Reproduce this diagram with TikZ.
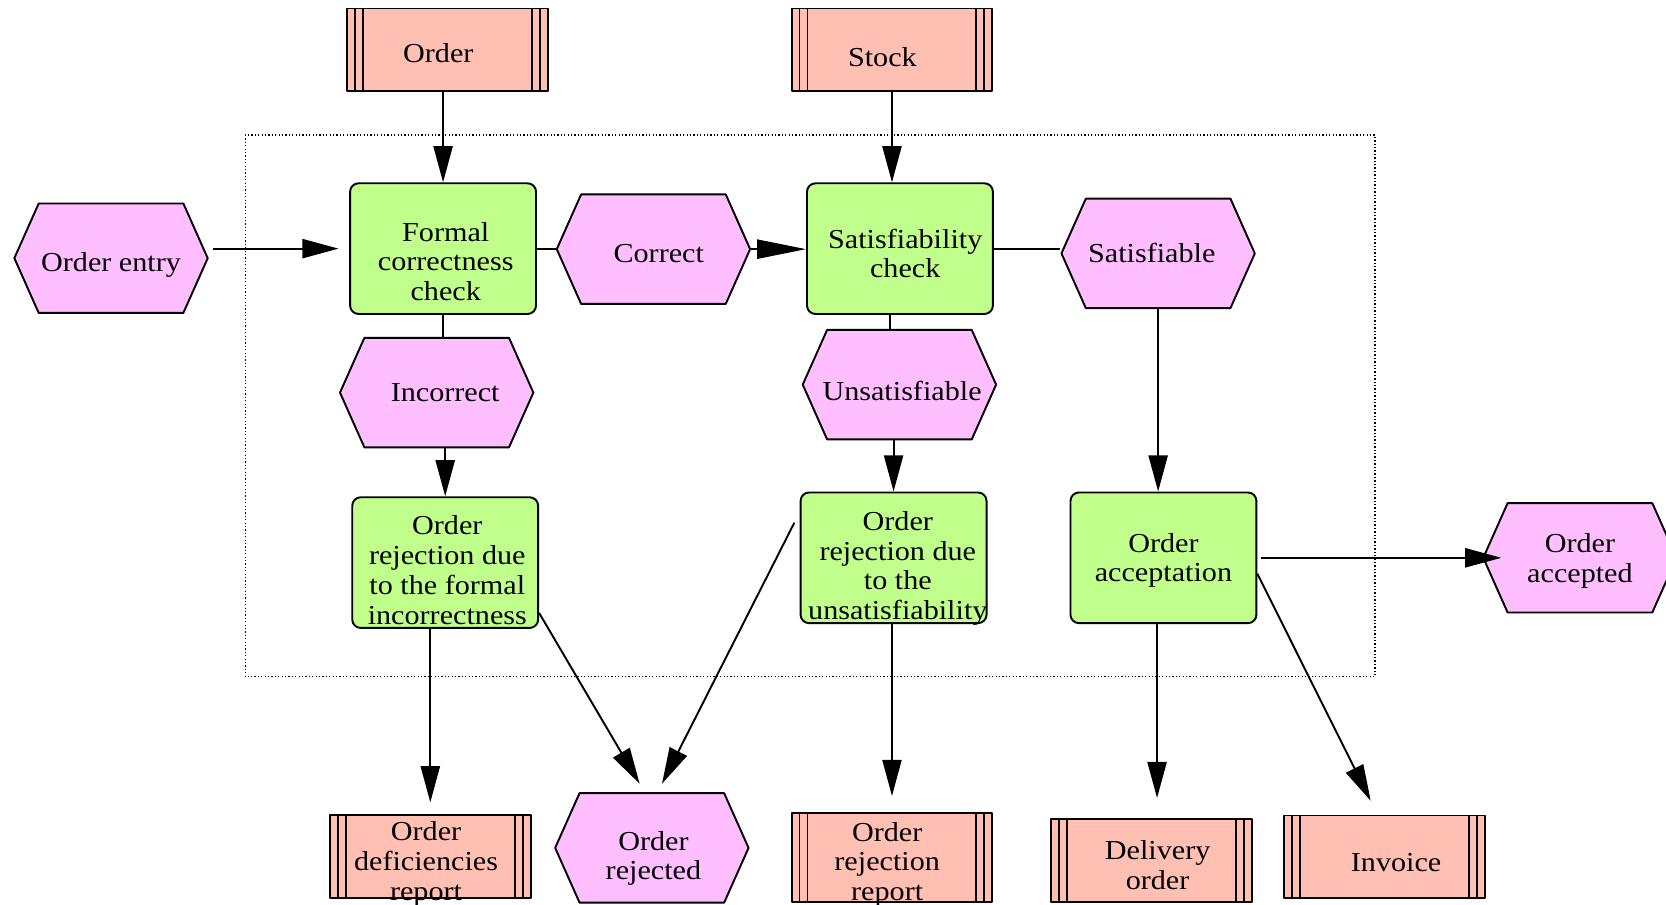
\documentclass[tikz,border=0pt]{standalone}
\usepackage{fontspec}
\setmainfont{Liberation Serif}[FakeStretch=1.1]
\usepackage{tikz}
\usetikzlibrary{arrows.meta,shapes.symbols}
\definecolor{fnfill}{RGB}{192,255,140}
\definecolor{evfill}{RGB}{255,190,255}
\definecolor{docfill}{RGB}{255,191,179}

\begin{document}
\begin{tikzpicture}[x=0.5pt,y=-0.5pt,>={Triangle[length=17pt,width=9pt]},line join=round,
  every node/.style={font=\fontsize{12.9}{14}\selectfont,align=center,line width=0.9pt},
  txt/.style={inner sep=0pt},
  fn/.style={draw,fill=fnfill,rounded corners=4pt,minimum width=87.5pt,minimum height=61.5pt,inner sep=0pt},
  ev/.style={draw,fill=evfill,signal,signal to=east and west,signal pointer angle=132,
    minimum width=91pt,minimum height=51.5pt,inner sep=0pt},
  doc/.style={draw,fill=docfill,minimum width=94.5pt,minimum height=39pt,inner sep=0pt,
    path picture={
      \draw[line width=0.9pt]
        ([xshift=3.75pt]path picture bounding box.north west) -- ([xshift=3.75pt]path picture bounding box.south west)
        ([xshift=7.5pt]path picture bounding box.north west) -- ([xshift=7.5pt]path picture bounding box.south west)
        ([xshift=-3.75pt]path picture bounding box.north east) -- ([xshift=-3.75pt]path picture bounding box.south east)
        ([xshift=-7.5pt]path picture bounding box.north east) -- ([xshift=-7.5pt]path picture bounding box.south east);
    }},
  flow/.style={->,line width=0.9pt},
  link/.style={line width=0.9pt}]
  \useasboundingbox (0,0) rectangle (1568,851);
  % group frame
  \draw[densely dotted,line width=0.6pt] (231,127) rectangle (1294,637);
  % inputs
  \node[doc,label={[txt,xshift=-4.5pt,yshift=-1.5pt]center:Order}] (ORD) at (421.5,47.0) {};
  \node[doc,label={[txt,xshift=-4.5pt,yshift=-3.5pt]center:Stock}] (STK) at (839.5,47.0) {};
  % events and functions
  \node[ev,label={[txt,yshift=-3pt]center:Order entry}] (ENT) at (104.5,243.0) {};
  \node[fn,label={[txt,xshift=1.25pt,yshift=-6pt]center:Formal\\correctness\\check}] (FCC) at (417.0,234.0) {};
  \node[ev,label={[txt,xshift=2.5pt,yshift=-2pt]center:Correct}] (COR) at (615.0,234.5) {};
  \node[fn,label={[txt,xshift=2.5pt,yshift=-2.25pt]center:Satisfiability\\check}] (SCK) at (847.0,234.0) {};
  \node[ev,label={[txt,xshift=-3pt]center:Satisfiable}] (SAT) at (1090.0,238.5) {};
  \node[ev,label={[txt,xshift=4pt]center:Incorrect}] (INC) at (411.0,369.5) {};
  \node[ev,label={[txt,xshift=1.25pt,yshift=-3pt]center:Unsatisfiable}] (UNS) at (846.5,362.0) {};
  \node[fn,label={[txt,xshift=1pt,yshift=-3.5pt]center:Order\\rejection due\\to the formal\\incorrectness}] (FRJ) at (419.0,529.5) {};
  \node[fn,label={[txt,xshift=2pt,yshift=-5pt]center:Order\\rejection due\\to the\\unsatisfiability}] (SRJ) at (841.0,525.0) {};
  \node[fn,label={[txt,yshift=-1.25pt]center:Order\\acceptation}] (ACC) at (1095.0,525.0) {};
  \node[ev,label={[txt,yshift=-1.5pt]center:Order\\accepted}] (ACD) at (1487.0,525.0) {};
  % outputs
  \node[doc,label={[txt,xshift=-2pt,yshift=-3.5pt]center:Order\\deficiencies\\report}] (DEF) at (405.0,806.0) {};
  \node[ev,label={[txt,xshift=0.75pt,yshift=-5pt]center:Order\\rejected}] (REJ) at (613.5,798.0) {};
  \node[doc,minimum height=42pt,label={[txt,xshift=-2.25pt,yshift=-3.25pt]center:Order\\rejection\\report}] (RRP) at (839.5,807.0) {};
  \node[doc,label={[txt,xshift=3pt,yshift=-2.25pt]center:Delivery\\order}] (DLV) at (1083.5,810.0) {};
  \node[doc,label={[txt,xshift=5.5pt,yshift=-2.5pt]center:Invoice}] (INV) at (1303.0,806.5) {};
  % connectors
  \draw[flow] (FCC.north |- ORD.south) -- (FCC.north);
  \draw[flow] (STK.south) -- (STK.south |- SCK.north);
  \draw[flow,shorten <=2pt,shorten >=5pt] (ENT.east |- FCC.west) -- (FCC.west);
  \draw[link] (FCC.east) -- (FCC.east -| COR.west);
  \draw[flow,-{Triangle[length=23pt,width=9pt]}] (COR.east) -- (COR.east -| SCK.west);
  \draw[link] (SCK.east) -- (SCK.east -| SAT.west);
  \draw[link] (FCC.south) -- (FCC.south |- INC.north);
  \draw[link] ([xshift=-4.5pt]SCK.south) -- ([xshift=-4.5pt]SCK.south |- UNS.north);
  \draw[flow] (FRJ.north |- INC.south) -- (FRJ.north);
  \draw[flow] (SRJ.north |- UNS.south) -- (SRJ.north);
  \draw[flow] (SAT.south) -- (SAT.south |- ACC.north);
  \draw[flow,shorten <=1.5pt,shorten >=-9pt] (ACC.east) -- (ACD.west);
  \draw[flow,shorten >=5.5pt] (DEF.north |- FRJ.south) -- (DEF.north);
  \draw[flow,shorten >=4.6pt] ([yshift=7.5pt]FRJ.south east) -- ([xshift=-3.4pt]REJ.north);
  \draw[flow,shorten >=4.5pt] ([xshift=-2.5pt,yshift=16.5pt]SRJ.west) -- ([xshift=2.75pt]REJ.north);
  \draw[flow,shorten >=7.5pt] (RRP.north |- SRJ.south) -- (RRP.north);
  \draw[flow,shorten >=9.5pt] ([xshift=-3pt]ACC.south) -- ([xshift=-3pt]ACC.south |- DLV.north);
  \draw[flow,shorten >=7.25pt] ([yshift=-7.5pt]ACC.east) -- ([xshift=-3.25pt]INV.north);
\end{tikzpicture}
\end{document}
